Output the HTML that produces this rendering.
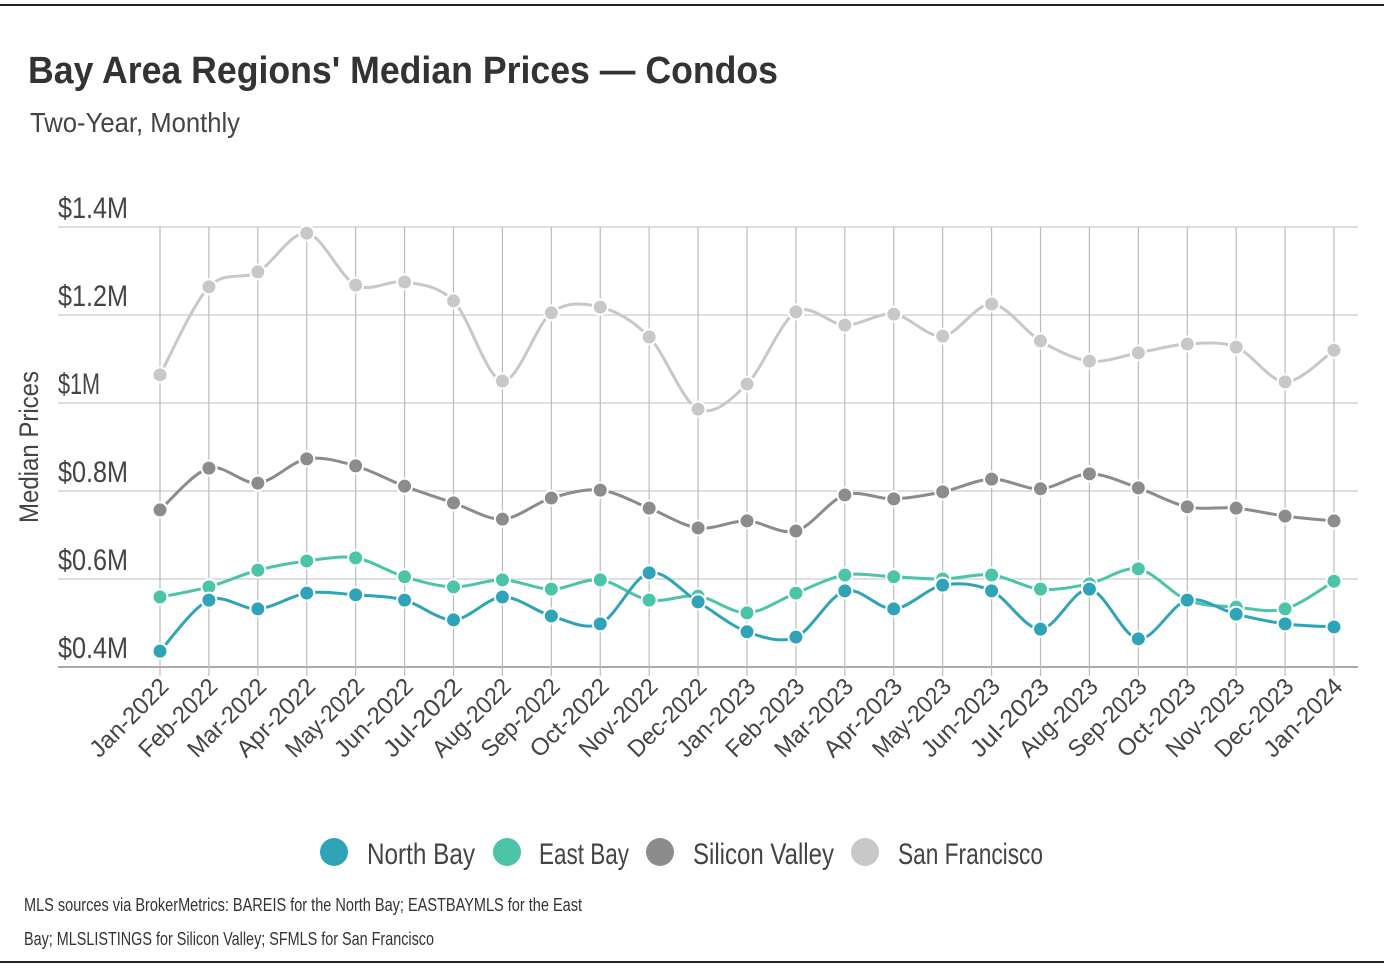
<!DOCTYPE html>
<html><head><meta charset="utf-8"><style>
body{margin:0;background:#fff;width:1384px;height:978px;overflow:hidden;font-family:"Liberation Sans",sans-serif}
svg{display:block}
</style></head><body>
<svg id="chart" width="1384" height="978">
<line x1="0" y1="5" x2="1384" y2="5" stroke="#222" stroke-width="2"/>
<line x1="0" y1="962" x2="1384" y2="962" stroke="#222" stroke-width="2"/>
<text x="28" y="83" font-size="38" font-weight="bold" fill="#333" textLength="750" lengthAdjust="spacingAndGlyphs">Bay Area Regions' Median Prices — Condos</text>
<text x="30" y="132" font-size="28" fill="#444" textLength="210" lengthAdjust="spacingAndGlyphs">Two-Year, Monthly</text>
<text transform="translate(38,447) rotate(-90)" text-anchor="middle" font-size="27" fill="#444" textLength="152" lengthAdjust="spacingAndGlyphs">Median Prices</text>
<g id="grid"></g><g id="series"></g><g id="xlabels"></g>
<g>
<circle cx="334" cy="852" r="14" fill="#2fa4b8"/>
<text x="367" y="864" font-size="30" fill="#444" textLength="108" lengthAdjust="spacingAndGlyphs">North Bay</text>
<circle cx="507" cy="852" r="14" fill="#4cc4a8"/>
<text x="539" y="864" font-size="30" fill="#444" textLength="90" lengthAdjust="spacingAndGlyphs">East Bay</text>
<circle cx="660" cy="852" r="14" fill="#8c8c8c"/>
<text x="693" y="864" font-size="30" fill="#444" textLength="141" lengthAdjust="spacingAndGlyphs">Silicon Valley</text>
<circle cx="865" cy="852" r="14" fill="#c8c8c8"/>
<text x="898" y="864" font-size="30" fill="#444" textLength="145" lengthAdjust="spacingAndGlyphs">San Francisco</text>
</g>
<text x="24" y="911" font-size="18" fill="#333" textLength="558" lengthAdjust="spacingAndGlyphs">MLS sources via BrokerMetrics: BAREIS for the North Bay; EASTBAYMLS for the East</text>
<text x="24" y="945" font-size="18" fill="#333" textLength="410" lengthAdjust="spacingAndGlyphs">Bay; MLSLISTINGS for Silicon Valley; SFMLS for San Francisco</text>
</svg>
<script>
const months=["Jan-2022","Feb-2022","Mar-2022","Apr-2022","May-2022","Jun-2022","Jul-2022","Aug-2022","Sep-2022","Oct-2022","Nov-2022","Dec-2022","Jan-2023","Feb-2023","Mar-2023","Apr-2023","May-2023","Jun-2023","Jul-2023","Aug-2023","Sep-2023","Oct-2023","Nov-2023","Dec-2023","Jan-2024"];
const yTicks=[0.4,0.6,0.8,1.0,1.2,1.4];
const yTickLabels=["$0.4M","$0.6M","$0.8M","$1M","$1.2M","$1.4M"];
const sanFrancisco=[1.064,1.264,1.298,1.386,1.268,1.275,1.232,1.05,1.205,1.218,1.15,0.986,1.043,1.207,1.177,1.202,1.152,1.225,1.141,1.095,1.114,1.134,1.127,1.048,1.12];
const siliconValley=[0.757,0.852,0.818,0.873,0.857,0.811,0.773,0.736,0.784,0.802,0.761,0.716,0.732,0.709,0.791,0.782,0.798,0.827,0.805,0.839,0.807,0.764,0.761,0.743,0.732];
const eastBay=[0.559,0.582,0.62,0.641,0.648,0.605,0.582,0.598,0.577,0.598,0.552,0.561,0.523,0.568,0.609,0.605,0.6,0.609,0.577,0.589,0.623,0.552,0.536,0.532,0.595];
const northBay=[0.436,0.552,0.532,0.568,0.564,0.552,0.507,0.559,0.516,0.498,0.614,0.548,0.48,0.468,0.573,0.532,0.586,0.573,0.486,0.577,0.464,0.552,0.52,0.498,0.491];

const NS="http://www.w3.org/2000/svg";
const X0=160,DX=(1334-160)/24;
const xs=i=>X0+i*DX;
const ys=v=>667-(v-0.4)*440;
function mk(t,a,p){const e=document.createElementNS(NS,t);for(const k in a)e.setAttribute(k,a[k]);p.appendChild(e);return e;}
const grid=document.getElementById('grid');
yTicks.forEach((v,i)=>{
  const l=mk('line',{x1:58,x2:1358,y1:ys(v),y2:ys(v),stroke:i==0?'#aaa':'#ccc','stroke-width':i==0?2:1.2},grid);
  
  
  const t=mk('text',{x:58,y:ys(v)-9,'font-size':30,fill:'#444',textLength:yTickLabels[i].length*14,lengthAdjust:'spacingAndGlyphs'},grid);
  t.textContent=yTickLabels[i];
  
  
});
const xl=document.getElementById('xlabels');
months.forEach((m,i)=>{
  const l=mk('line',{x1:xs(i),x2:xs(i),y1:227,y2:676,stroke:'#bbb','stroke-width':1.2},grid);
  
  
  const t=mk('text',{transform:`translate(${xs(i)+10},${688}) rotate(-45)`,'text-anchor':'end','font-size':24,fill:'#444',textLength:100,lengthAdjust:'spacingAndGlyphs'},xl);
  t.textContent=m;
  
  
});
function path(vals){
  const p=vals.map((v,i)=>[xs(i),ys(v)]);
  let d=`M${p[0][0]},${p[0][1]}`;
  for(let i=0;i<p.length-1;i++){
    const p0=p[Math.max(0,i-1)],p1=p[i],p2=p[i+1],p3=p[Math.min(p.length-1,i+2)];
    const k=0.16;
    d+=`C${p1[0]+(p2[0]-p0[0])*k},${p1[1]+(p2[1]-p0[1])*k} ${p2[0]-(p3[0]-p1[0])*k},${p2[1]-(p3[1]-p1[1])*k} ${p2[0]},${p2[1]}`;
  }
  return d;
}
const sg=document.getElementById('series');
[[sanFrancisco,'#c8c8c8','san-francisco'],[siliconValley,'#8c8c8c','silicon-valley'],[eastBay,'#4cc4a8','east-bay'],[northBay,'#2fa4b8','north-bay']].forEach(([vals,c,n])=>{
  const g=mk('g',{},sg);
  
  
  const pl=mk('path',{d:path(vals),fill:'none',stroke:c,'stroke-width':3},g);
  
  
  vals.forEach((v,i)=>{
    const ci=mk('circle',{cx:xs(i),cy:ys(v),r:7.5,fill:c,stroke:'#fff','stroke-width':2},g);
    
    
  });
});
</script>
</body></html>
